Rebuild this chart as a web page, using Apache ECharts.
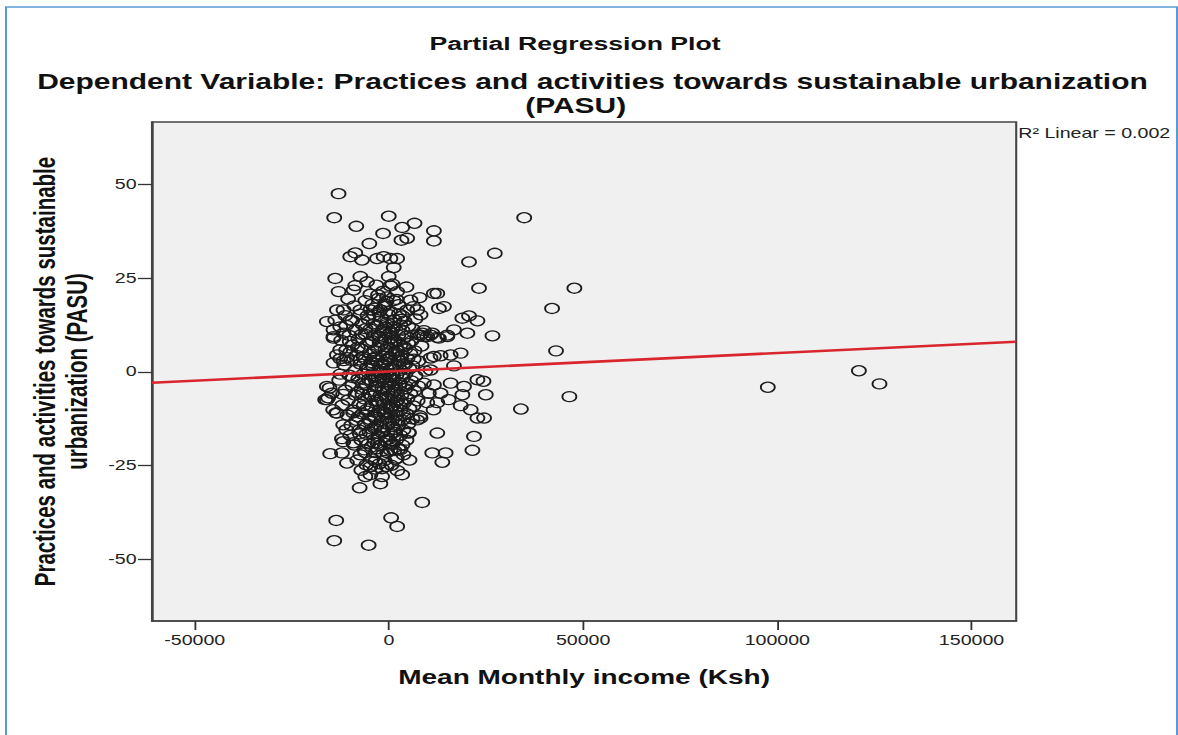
<!DOCTYPE html>
<html>
<head>
<meta charset="utf-8">
<script src="https://cdn.jsdelivr.net/npm/echarts@6/dist/echarts.min.js"></script>
<style>
html,body{margin:0;padding:0;overflow:hidden;background:#fff;width:1178px;height:735px;}
#chart{width:841px;height:735px;transform:scaleX(1.40071);transform-origin:0 0;}
</style>
</head>
<body>
<div id="chart"></div>
<script>
// ---- Data ----
const chartTitle = 'Partial Regression Plot';
const subtitleLine1 = 'Dependent Variable: Practices and activities towards sustainable urbanization';
const subtitleLine2 = '(PASU)';
const xAxisTitle = 'Mean Monthly income (Ksh)';
const yAxisTitle = 'Practices and activities towards sustainable\nurbanization (PASU)';
const fitLabel = 'R² Linear = 0.002';

const xTicks = [-50000, 0, 50000, 100000, 150000];
const yTicks = [-50, -25, 0, 25, 50];
const xRange = [-61000, 161500];
const yRange = [-66.4, 66.6];

// fitted line  y = fitIntercept + fitSlope * x
const fitIntercept = 0.1;
const fitSlope = 0.0000492;

// sparse / clearly visible points
const outerPoints = [
  [-12970,47.5],[-14080,41.1],[-8400,38.8],[-50,41.5],[3410,38.5],[6590,39.6],[-1500,36.9],[-5040,34.2],
  [3230,35.1],[4700,35.6],[11580,37.6],[11580,34.9],[-9950,30.7],[-8660,31.7],[-6930,29.8],[-3050,30.2],
  [-1340,30.7],[390,30.2],[2120,30.2],[1240,27.8],[-13820,24.9],[-7360,25.4],[-5630,24.0],[-50,25.4],
  [390,22.9],[11580,20.9],[12450,20.9],[-12970,21.4],[-9100,21.8],[-4780,20.7],[-470,20.0],[2120,21.4],
  [20620,29.3],[23200,22.3],[27260,31.6],[34830,41.1],[42000,16.9],[47750,22.3],[43020,5.6],[46460,-6.6],
  [33980,-9.9],[24340,-2.5],[24940,-6.1],[14160,17.4],[18910,14.3],[20620,14.9],[22790,13.6],[20200,10.3],
  [26660,9.6],[8580,10.3],[10720,9.8],[12870,9.0],[15040,9.4],[16740,11.2],[12450,-16.3],[21910,-17.2],
  [21500,-20.9],[11160,-21.6],[14600,-21.6],[13750,-24.1],[22790,-12.3],[24500,-12.3],[-7540,-30.9],
  [-2200,-29.8],[8580,-34.8],[-13570,-39.6],[570,-38.9],[2120,-41.2],[-14080,-45.0],[-5220,-46.2],
  [5120,-16.3],[-15120,-21.8],[-12090,-21.6],[-10800,-24.3],[97550,-4.1],[121000,0.3],[126300,-3.2],
  [-13380,16.5],[-11680,16.5],[-7360,16.5],[-4780,16.5],[-2200,16.5],[4700,16.5],[7290,16.5],
  [-15970,13.4],[-14260,11.2],[-12530,12.0],[-9950,13.8],[8990,9.4],[11160,10.3],[12870,16.9],
  [-14260,9.0],[-12530,5.9],[-12530,3.5],[-10800,3.8],[-7360,3.2],[-3930,3.6],[-470,3.3],[2970,3.9],
  [6410,3.4],[10720,3.7],
  [8990,-3.0],[11580,-3.5],[15890,-3.0],[19330,-3.9],[22790,-2.1],[10280,-5.7],[13310,-5.7],[18910,-6.1],
  [9870,-8.2],[12450,-8.2],[15370,-7.4],[18480,-9.0],[21060,-10.1],[7290,-12.8],[8140,-12.3],[11500,-10.1],
  [16740,1.6],[10720,0.5],[11580,4.1],[13310,4.3],[15890,4.5],[18480,5.0],[8140,9.8],[9870,9.4],
  [12450,9.2],[15040,9.8],
  [3410,-27.4],[5120,-16.1],[-6070,-27.9],[-4780,-27.4],[-1760,-27.9],[-7360,-22.1],[-3490,-21.5],
  [-470,-21.5],[2970,-20.7],[3750,-22.1],[-4780,-25.3],[-1760,-25.8],[-11760,-18.6],[-9170,-18.9],
  [-12090,-17.8],[-13380,-11.0],[-15300,-4.3],[-15970,-7.4],[-14680,-5.7],
  [-13820,13.8],[-11680,10.3],[-14260,9.4],[-13380,4.5],[-11680,3.0],[-14260,2.4],[-9950,5.3],
  [-15970,-3.9],[-15630,-6.9],[-16400,-7.4],[-14340,-10.1],[-13570,-10.9],[-11760,-14.1],[-10980,-15.4]
];

// dense central cluster
const corePoints = [
  [-3230,23.1],[900,23.4],[4520,22.6],[-8660,23.0],
  [-10500,19.4],[-6070,19.0],[-2710,19.6],[-650,18.8],[1940,19.3],[5560,19.1],[7900,19.8],
  [-8900,17.6],[-4260,18.0],[-1160,17.5],[2450,17.9],[6300,17.4],
  [-11240,15.0],[-7360,15.4],[-3750,15.1],[-130,15.3],[3490,14.9],[8140,15.2],
  [-9430,13.7],[-5300,14.0],[-2200,13.6],[1420,13.9],[4010,13.5],[6850,14.1],
  [-10980,12.4],[-6850,12.7],[-3230,12.3],[-650,12.6],[2970,12.5],[5040,12.2],
  [-8660,11.1],[-4780,11.4],[-1680,11.0],[900,11.3],[3490,11.1],[6070,11.5],[9000,11.0],
  [-10200,9.7],[-6070,10.0],[-2710,9.6],[-130,9.9],[2450,9.8],[4520,9.5],[7400,9.9],
  [-12300,8.4],[-7880,8.7],[-4260,8.3],[-1160,8.6],[1420,8.4],[3750,8.8],[5800,8.2],
  [-9430,7.1],[-5560,7.4],[-2200,7.0],[390,7.3],[2970,7.1],[5040,7.5],[8400,6.9],
  [-11000,5.8],[-7100,6.1],[-3750,5.7],[-900,6.0],[1940,5.8],[4270,6.2],[6600,5.6],
  [-8400,4.4],[-4780,4.7],[-1680,4.3],[900,4.6],[3230,4.4],[5560,4.8],
  [-9700,3.1],[-6070,3.4],[-3000,3.0],[-130,3.3],[2450,3.1],[4780,3.5],[7620,2.9],
  [-11500,1.8],[-7360,2.1],[-4260,1.7],[-1420,2.0],[1420,1.8],[3750,2.2],[6070,1.6],
  [-8660,0.4],[-5300,0.7],[-2460,0.3],[390,0.6],[2970,0.4],[5300,0.8],[9400,0.2],
  [-10200,-0.9],[-6600,-0.6],[-3490,-1.0],[-650,-0.7],[1940,-0.9],[4270,-0.5],[6850,-1.1],
  [-12800,-2.2],[-7880,-1.9],[-4520,-2.3],[-1680,-2.0],[900,-2.2],[3490,-1.8],[5800,-2.4],
  [-9430,-3.6],[-5820,-3.3],[-2970,-3.7],[-130,-3.4],[2710,-3.6],[5040,-3.2],[7600,-3.8],
  [-11240,-4.9],[-7100,-4.6],[-3750,-5.0],[-1160,-4.7],[1680,-4.9],[4270,-4.5],[6600,-5.1],
  [-8660,-6.2],[-5040,-5.9],[-2200,-6.3],[650,-6.0],[3230,-6.2],[5560,-5.8],
  [-10500,-7.5],[-6340,-7.2],[-3230,-7.6],[-390,-7.3],[2200,-7.5],[4780,-7.1],[7400,-7.7],
  [-12000,-8.9],[-7620,-8.6],[-4520,-9.0],[-1420,-8.7],[1160,-8.9],[3750,-8.5],[6300,-9.1],
  [-9170,-10.2],[-5560,-9.9],[-2460,-10.3],[390,-10.0],[2970,-10.2],[5300,-9.8],
  [-10700,-11.5],[-6850,-11.2],[-3750,-11.6],[-900,-11.3],[1940,-11.5],[4520,-11.1],[8000,-11.7],
  [-8400,-12.9],[-5040,-12.6],[-1940,-13.0],[900,-12.7],[3490,-12.9],[6070,-12.5],
  [-9700,-14.2],[-6070,-13.9],[-3230,-14.3],[-390,-14.0],[2450,-14.2],[5040,-13.8],
  [-7620,-15.5],[-4520,-15.2],[-1420,-15.6],[1420,-15.3],[3750,-15.5],
  [-9950,-16.9],[-5820,-16.6],[-2710,-17.0],[390,-16.7],[2970,-16.9],
  [-7100,-18.2],[-3750,-17.9],[-900,-18.3],[1940,-18.0],[4520,-18.2],
  [-8900,-19.5],[-5300,-19.2],[-2200,-19.6],[900,-19.3],[3490,-19.5],
  [-6340,-20.8],[-3000,-20.5],[390,-20.9],[2450,-20.6],
  [-8140,-23.5],[-4270,-23.2],[-1160,-23.6],[1680,-23.3],[5300,-23.5],
  [-5820,-24.8],[-2460,-24.5],[650,-24.9],
  [-7100,-26.2],[-3490,-25.9],[2200,-26.3],
  [-2000,14.5],[-500,13.2],[1100,12.0],[-1300,10.5],[600,9.1],[-2400,7.9],[-300,6.6],[1700,5.2],
  [-3400,4.0],[-900,2.6],[800,1.2],[-2000,-0.2],[300,-1.5],[-3100,-2.8],[-1700,-4.2],[1100,-5.5],
  [-600,-6.8],[-2600,-8.1],[600,-9.4],[-1300,-10.8],[-3600,-12.1],[200,-13.4],[-2000,-14.8],[1400,-16.1],
  [-800,-17.4],[-4200,-0.5],[-5000,8.0],[-4400,-6.5],[-5500,-10.5],[-4000,12.8],[-3700,-15.0],[2300,8.0],
  [2800,-3.0],[3000,14.0],[-6800,-3.0],[-7000,10.0],[-6200,-14.0],[-1000,18.0],[1200,19.0],[-2800,20.5],
  [500,-19.5],[-4500,-20.0],[-1500,-22.0],[2000,-23.0],[-5500,15.0],[-6500,4.0],[3800,-11.5],[4200,2.0],
  [-2500,16.0],[1900,-8.0],
  [-1000,11.8],[300,10.4],[-2300,9.2],[1300,7.8],[-700,5.1],[-2900,6.3],[200,3.9],[-1900,2.3],
  [1000,-0.4],[-1200,-1.3],[-3300,-4.0],[-300,-5.2],[1500,-6.9],[-2000,-7.0],[-800,-9.9],[1700,-10.6],
  [-2800,-11.0],[-400,-12.1],[1000,-14.6],[-1800,-16.2],[-3800,-18.9],[-100,-17.9],[-5000,-16.0],[-6500,-9.0],
  [-5200,-2.0],[-4600,2.5],[-6000,11.5],[-3500,17.0],[300,16.2],[2600,15.5],[-7900,-12.0],[-8000,6.5],
  [-9300,-1.5],[-8200,-5.5],[3600,-0.5],[4300,-3.8],[3200,-8.4],[2600,3.0],[1200,13.0],[-1500,21.5],
  [-4800,-13.2],[-3500,-23.8],[-600,-25.2],[-2900,-19.0],[-6100,-21.5],[1400,-21.0],[2300,-13.0],[3900,6.7],
  [-600,0.9],[-2700,-1.6],[-1100,-3.0],[700,-3.9],[-3900,9.6],[-5700,1.0],[-6800,-6.0],[-7500,-16.5],
  [-9200,-10.9],[-10100,8.1],[-11800,-6.0],[-12500,-0.6]
];

// ---- Chart ----
const FONT = '"Liberation Sans", Arial, sans-serif';
const chart = echarts.init(document.getElementById('chart'), null, {renderer: 'svg'});
const fitLine = xRange.map(x => [x, fitIntercept + fitSlope * x]);
const plainNum = v => String(v);
const titleStyle = size => ({fontFamily: FONT, fontSize: size, fontWeight: 'bold', color: '#111', lineHeight: 20});

chart.setOption({
  animation: false,
  backgroundColor: '#ffffff',
  title: [
    {text: chartTitle, left: 405.5, top: 28, textAlign: 'center', textStyle: titleStyle(19)},
    {text: subtitleLine1, left: 418, top: 67, textAlign: 'center', textStyle: titleStyle(21.4)},
    {text: subtitleLine2, left: 406, top: 91, textAlign: 'center', textStyle: titleStyle(21.4)}
  ],
  grid: {left: 108.5, top: 122, width: 617, height: 499, containLabel: false, outerBoundsMode: 'none',
         show: true, backgroundColor: '#f0f0f0', borderColor: '#444', borderWidth: 1.5},
  xAxis: {
    type: 'value', min: xRange[0], max: xRange[1],
    name: xAxisTitle, nameLocation: 'middle', nameGap: 46,
    nameTextStyle: {fontFamily: FONT, fontSize: 20, fontWeight: 'bold', color: '#111'},
    axisLine: {show: true, onZero: false, lineStyle: {color: '#444', width: 1.5}},
    splitLine: {show: false},
    axisTick: {show: true, customValues: xTicks, length: 9, lineStyle: {color: '#333', width: 1.3}},
    axisLabel: {customValues: xTicks, formatter: plainNum, margin: 12, fontFamily: FONT, fontSize: 14, color: '#222'}
  },
  yAxis: {
    type: 'value', min: yRange[0], max: yRange[1],
    name: yAxisTitle, nameLocation: 'middle', nameGap: 41, nameRotate: 90,
    nameTextStyle: {fontFamily: FONT, fontSize: 20.5, fontWeight: 'bold', color: '#111', lineHeight: 23},
    axisLine: {show: true, onZero: false, lineStyle: {color: '#444', width: 1.5}},
    splitLine: {show: false},
    axisTick: {show: true, customValues: yTicks, length: 10, lineStyle: {color: '#333', width: 1.3}},
    axisLabel: {customValues: yTicks, formatter: plainNum, margin: 11, fontFamily: FONT, fontSize: 14, color: '#222'}
  },
  graphic: [
    {type: 'rect', silent: true, z: -10,
     shape: {x: 4.3, y: 7, width: 836, height: 760},
     style: {fill: 'none', stroke: '#5b9bd5', lineWidth: 1.5}},
    {type: 'text', left: 727, top: 126, silent: true,
     style: {text: fitLabel, fontFamily: FONT, fontSize: 14, fill: '#222'}}
  ],
  series: [
    {type: 'scatter', data: outerPoints.concat(corePoints), symbol: 'circle', symbolSize: 10,
     itemStyle: {color: 'rgba(0,0,0,0)', borderColor: '#1c1c1c', borderWidth: 1.3, opacity: 1},
     emphasis: {disabled: true}, z: 2},
    {type: 'line', data: fitLine, symbol: 'none', silent: true,
     lineStyle: {color: '#d9262e', width: 2.6}, z: 3}
  ]
});
</script>
</body>
</html>
